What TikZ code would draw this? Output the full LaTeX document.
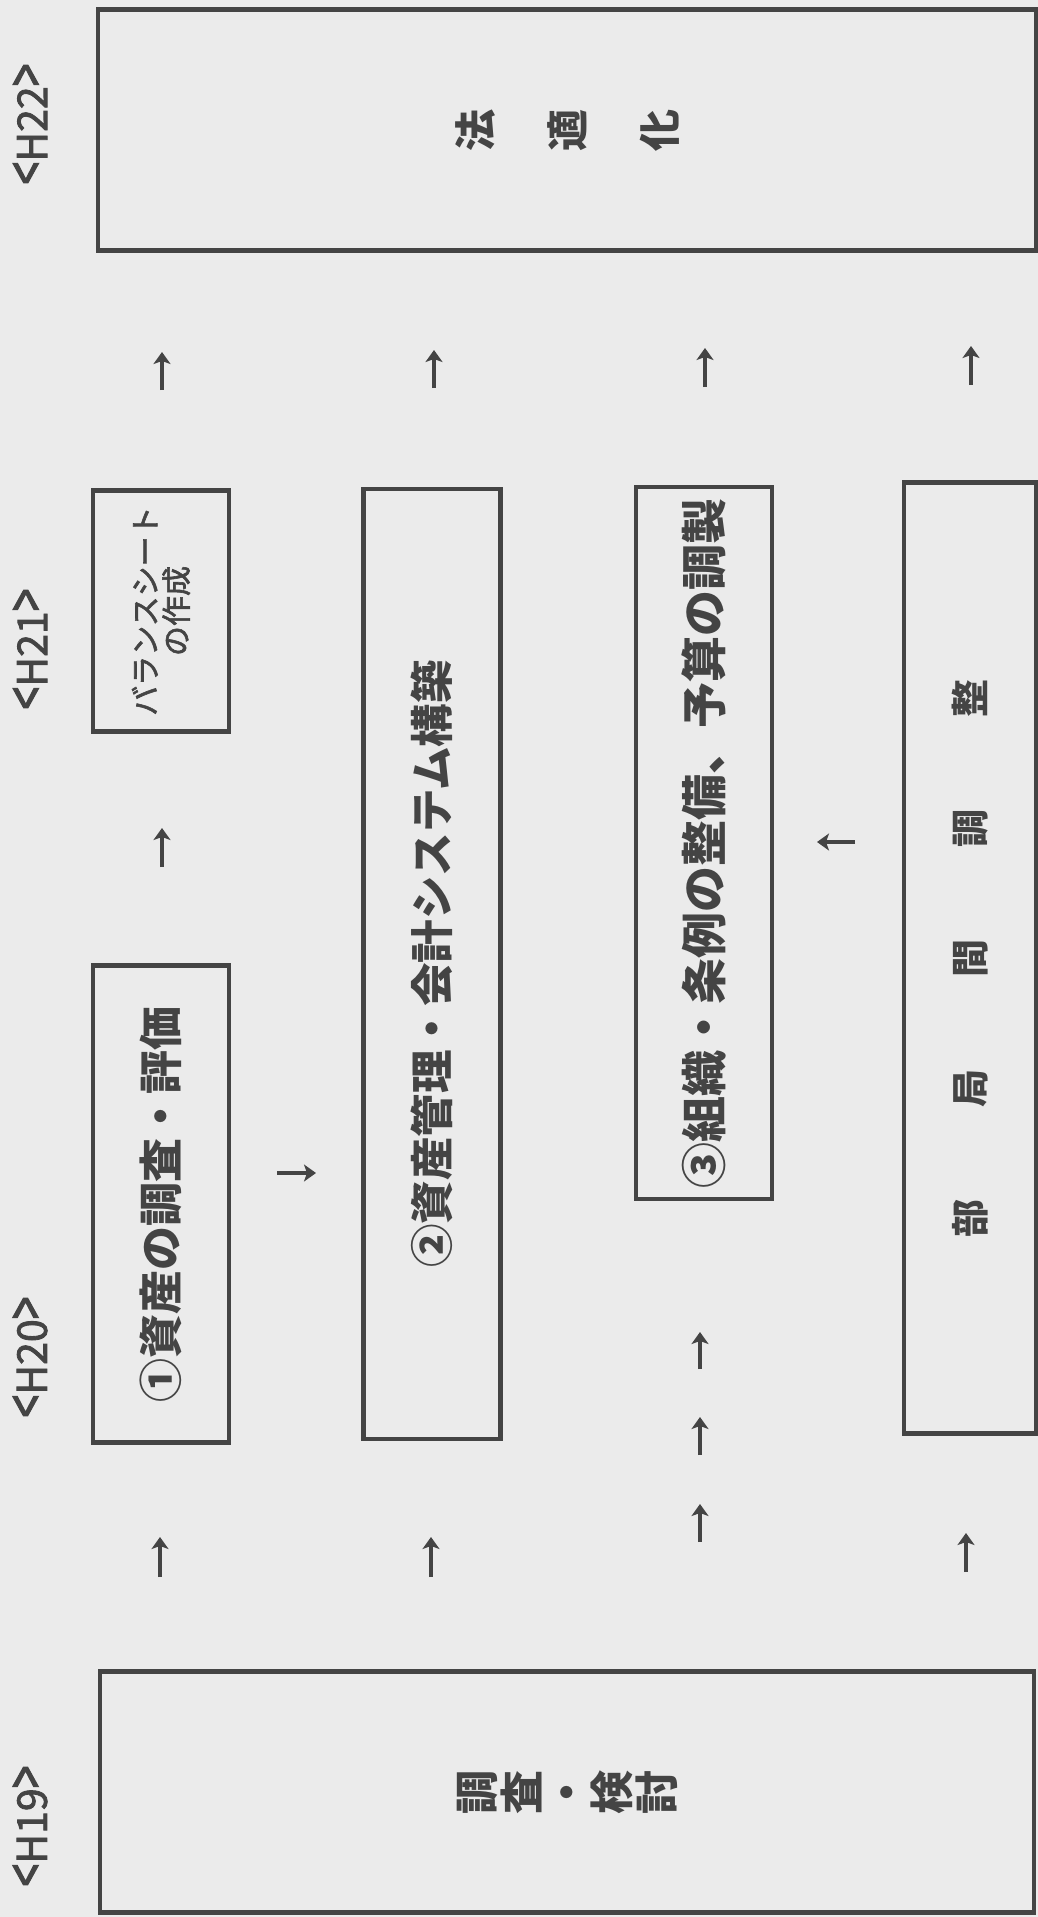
\documentclass[tikz,border=0pt]{standalone}
\usepackage{fontspec}
\setmainfont{Noto Sans CJK JP}
\newfontfamily\jpmed[FakeBold=2]{Noto Sans CJK JP}
\usetikzlibrary{arrows.meta}
\definecolor{paper}{HTML}{EBEBEB}
\definecolor{ink}{HTML}{444444}
\newcommand{\tallang}[1]{\scalebox{1}[1.4]{#1}}
\begin{document}
\begin{tikzpicture}[x=1pt,y=-1pt,
  box/.style={draw=ink, line width=4.5pt, rotate=90, inner sep=0pt, text=ink, align=center},
  lbl/.style={rotate=90, text=ink, inner sep=0pt, font=\jpmed\fontsize{41}{41}\selectfont},
  arr/.style={draw=ink, line width=4pt, -{Stealth[length=12pt,width=17pt,inset=3pt]}},
]
\fill[paper] (0,0) rectangle (1038,1917);
\useasboundingbox (0,0) rectangle (1038,1917);

% year labels
\node[lbl] (h19) at (30,1826) {\tallang{<}H19\tallang{>}};
\node[lbl] (h20) at (30,1357) {\tallang{<}H20\tallang{>}};
\node[lbl] (h21) at (30,649) {\tallang{<}H21\tallang{>}};
\node[lbl] (h22) at (30,124) {\tallang{<}H22\tallang{>}};

% boxes
\node[box, minimum width=241pt, minimum height=934pt,
  font=\fontsize{44}{45}\selectfont\bfseries] (chosa) at (567,1792) {調\\査\\・\\検\\討};
\node[box, minimum width=241pt, minimum height=938pt,
  font=\fontsize{42}{92}\selectfont\bfseries] (hou) at (567,130) {法\\適\\化};
\node[box, minimum width=477pt, minimum height=136pt,
  font=\fontsize{44}{44}\selectfont\bfseries] (b1) at (161,1204) {①資産の調査・評価};
\node[box, minimum width=241pt, minimum height=136pt,
  font=\jpmed\fontsize{30}{31}\selectfont] (bs) at (161,611) {バランスシート\\の作成};
\node[box, minimum width=950pt, minimum height=137pt,
  font=\fontsize{43.5}{44}\selectfont\bfseries] (b2) at (432,964) {②資産管理・会計システム構築};
\node[box, minimum width=712pt, minimum height=136pt,
  font=\fontsize{46}{46}\selectfont\bfseries] (b3) at (704,843) {③組織・条例の整備、予算の調製};
\node[box, minimum width=951pt, minimum height=132pt,
  font=\fontsize{38}{38}\selectfont\bfseries] (b4) at (970,958) {部\hspace{92pt}局\hspace{92pt}間\hspace{92pt}調\hspace{92pt}整};

% arrows
\coordinate (c1a) at (160,1577); \coordinate (c1b) at (160,1537);
\coordinate (c1c) at (162,867);  \coordinate (c1d) at (162,828);
\coordinate (c1e) at (162,390);  \coordinate (c1f) at (162,352);
\coordinate (c2a) at (431,1577); \coordinate (c2b) at (431,1537);
\coordinate (c2c) at (434,388);  \coordinate (c2d) at (434,350);
\coordinate (c3a) at (700,1542); \coordinate (c3b) at (700,1504);
\coordinate (c3c) at (700,1455); \coordinate (c3d) at (700,1417);
\coordinate (c3e) at (700,1369); \coordinate (c3f) at (700,1332);
\coordinate (c3g) at (705,387);  \coordinate (c3h) at (705,348);
\coordinate (c4a) at (966,1572); \coordinate (c4b) at (966,1533);
\coordinate (c4c) at (971,385);  \coordinate (c4d) at (971,346);
\coordinate (d1a) at (277,1173); \coordinate (d1b) at (316,1173);
\coordinate (d2a) at (855,842);  \coordinate (d2b) at (817,842);

\draw[arr] (c1a) -- (c1b);
\draw[arr] (c1c) -- (c1d);
\draw[arr] (c1e) -- (c1f);
\draw[arr] (c2a) -- (c2b);
\draw[arr] (c2c) -- (c2d);
\draw[arr] (c3a) -- (c3b);
\draw[arr] (c3c) -- (c3d);
\draw[arr] (c3e) -- (c3f);
\draw[arr] (c3g) -- (c3h);
\draw[arr] (c4a) -- (c4b);
\draw[arr] (c4c) -- (c4d);
\draw[arr] (d1a) -- (d1b);
\draw[arr] (d2a) -- (d2b);
\end{tikzpicture}
\end{document}
